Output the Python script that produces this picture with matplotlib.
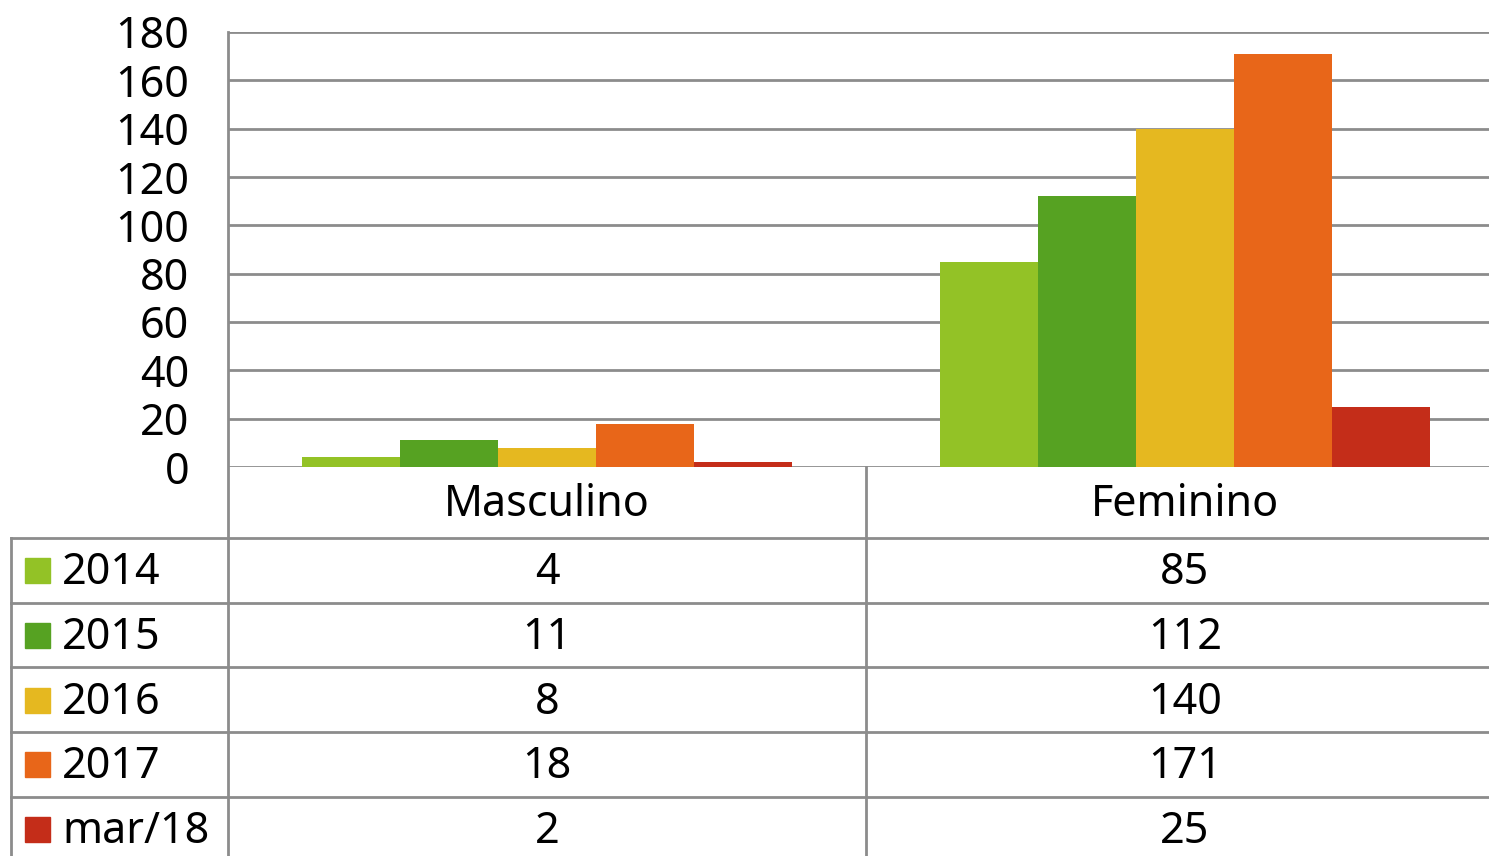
import matplotlib.pyplot as plt
import numpy as np

plt.rcParams['font.family'] = ['Noto Sans', 'DejaVu Sans']

# dados
categorias = ['Masculino', 'Feminino']
series = ['2014', '2015', '2016', '2017', 'mar/18']
masculino = [4, 11, 8, 18, 2]
feminino = [85, 112, 140, 171, 25]
cores = ['#93c226', '#56a222', '#e5b820', '#e86619', '#c42d19']
yticks = list(range(0, 181, 20))

W, H = 1489, 856
fig = plt.figure(figsize=(W / 100, H / 100), dpi=100)
fig.patch.set_facecolor('white')

grid_cor = '#8c8c8c'
fs = 31

# eixo principal (em pixels da figura)
x0, x1 = 228, 1504
y_top, y_zero = 32, 467
ax = fig.add_axes([x0 / W, 1 - y_zero / H, (x1 - x0) / W, (y_zero - y_top) / H])
ax.set_xlim(0, len(categorias))
ax.set_ylim(0, 180)
ax.set_yticks(yticks)
ax.set_yticklabels([str(t) for t in yticks], fontsize=fs)
ax.tick_params(axis='y', length=0, pad=28)
ax.set_xticks([])
for s in ax.spines.values():
    s.set_visible(False)
ax.set_axisbelow(True)
ax.grid(axis='y', color=grid_cor, linewidth=2)

valores = np.array([masculino, feminino]).T  # serie x categoria
grupo = 0.768
bw = grupo / len(series)
xc = np.arange(len(categorias)) + 0.5
for i, (nome, cor) in enumerate(zip(series, cores)):
    pos = xc - grupo / 2 + bw * (i + 0.5)
    ax.bar(pos, valores[i], width=bw, color=cor, edgecolor='none', zorder=3)

# tabela de dados (sobreposicao em pixels)
ov = fig.add_axes([0, 0, 1, 1], facecolor='none')
ov.set_xlim(0, W)
ov.set_ylim(H, 0)
ov.axis('off')

col_left, col_div = 11, 866
header_bot = 538
row_h = 64.7
n = len(series)
linhas_y = [header_bot + row_h * k for k in range(n)]

# linhas verticais
ov.plot([x0, x0], [y_top, H], color=grid_cor, lw=2)
ov.plot([col_div, col_div], [y_zero, H], color=grid_cor, lw=2)
ov.plot([col_left, col_left], [header_bot, H], color=grid_cor, lw=2)
# linhas horizontais
for yl in linhas_y:
    ov.plot([col_left, W], [yl, yl], color=grid_cor, lw=2)

# cabecalho
col_centros = [(x0 + col_div) / 2, (col_div + x1) / 2]
for cx, cat in zip(col_centros, categorias):
    ov.text(cx, (y_zero + header_bot) / 2 + 3, cat, fontsize=fs, ha='center', va='center')

# linhas da tabela
for k, (nome, cor) in enumerate(zip(series, cores)):
    yc = linhas_y[k] + row_h / 2
    ov.add_patch(plt.Rectangle((25, yc - 12), 25, 25, color=cor))
    ov.text(62, yc + 3, nome, fontsize=fs, ha='left', va='center')
    for cx, v in zip(col_centros, valores[k]):
        ov.text(cx, yc + 3, str(v), fontsize=fs, ha='center', va='center')

fig.savefig('out.png', dpi=100)
